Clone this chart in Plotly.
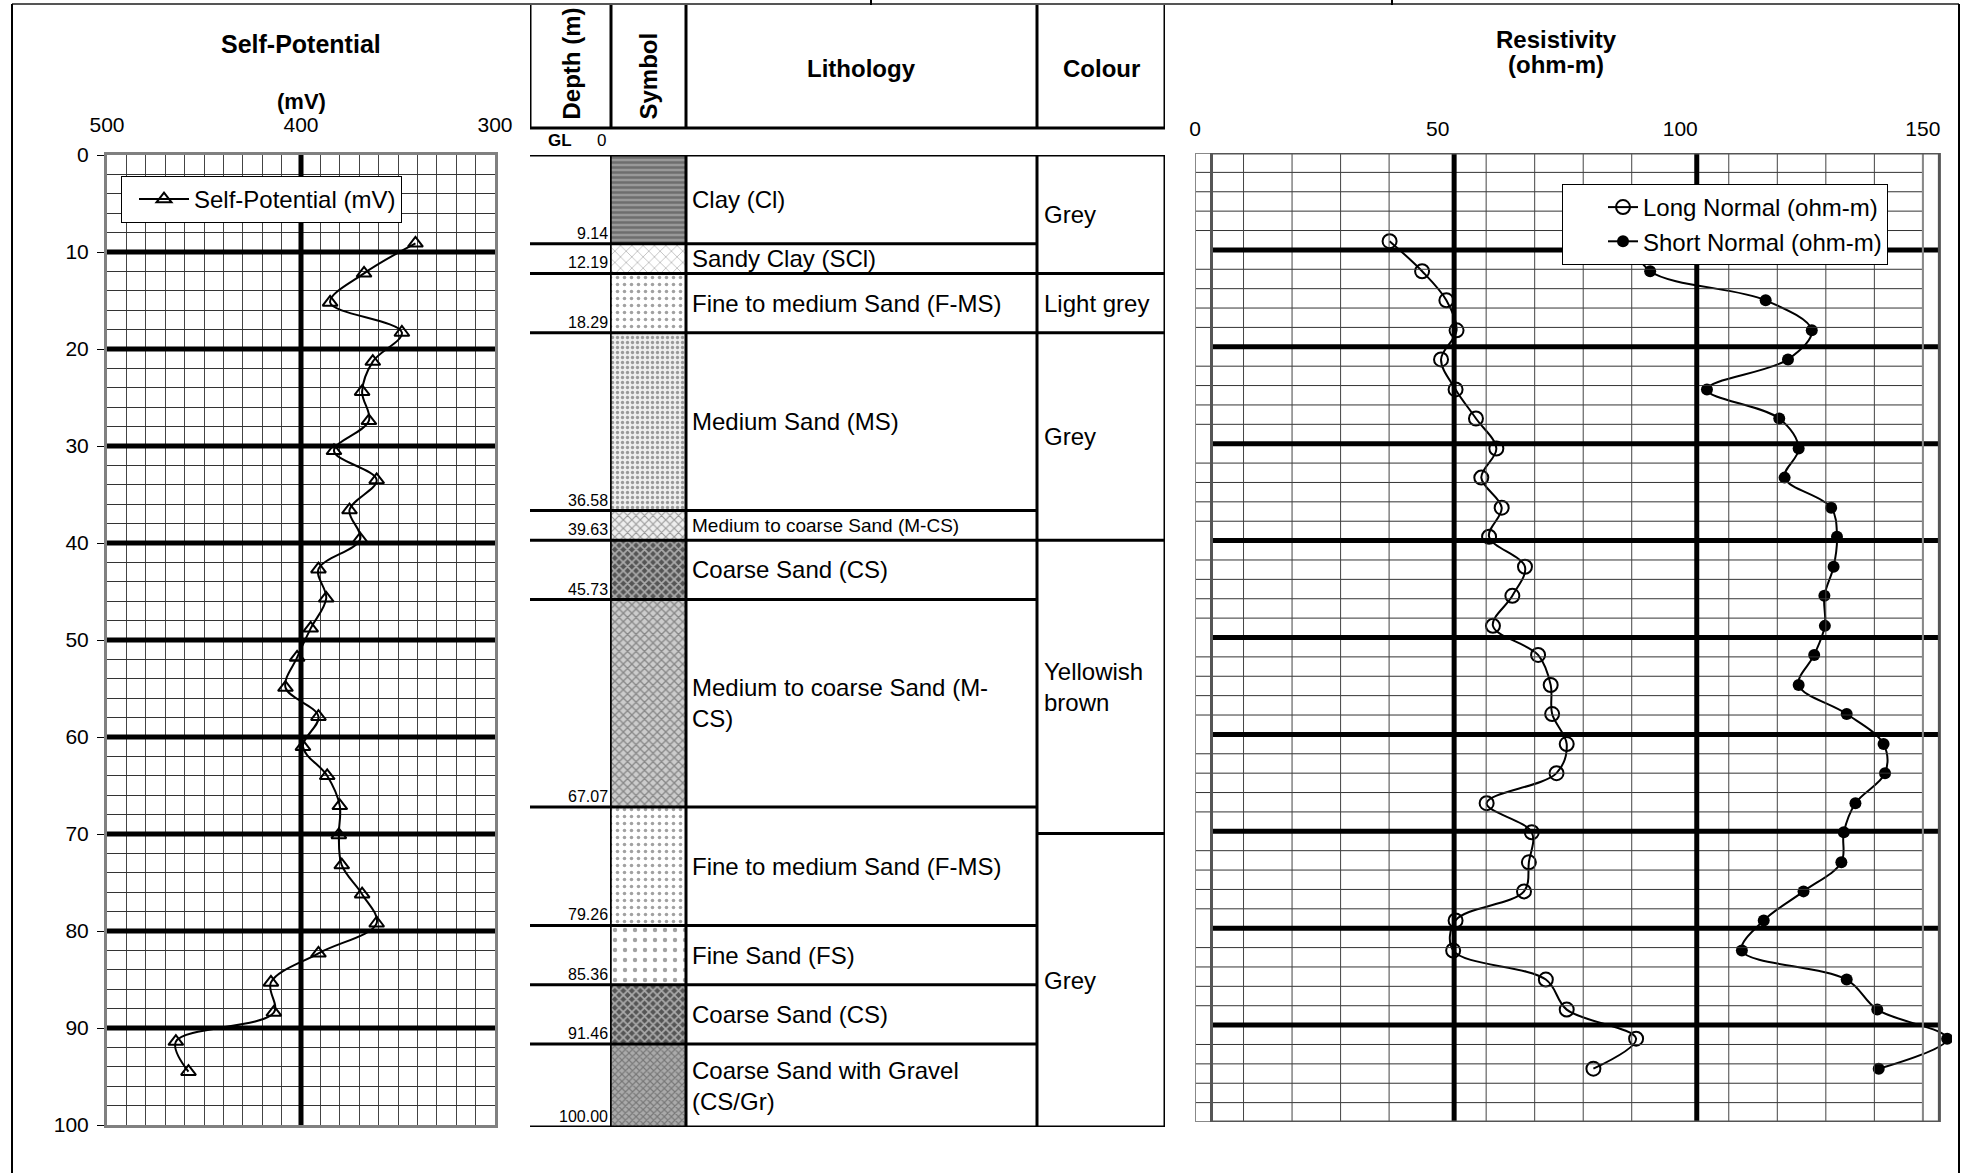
import plotly.graph_objects as go

W, H = 1970, 1173

# ---- self potential log ----
sp_depth = [9.1, 12.2, 15.2, 18.3, 21.3, 24.4, 27.4, 30.5, 33.5, 36.6, 39.6, 42.7, 45.7, 48.8, 51.8,
            54.9, 57.9, 61.0, 64.0, 67.1, 70.1, 73.2, 76.2, 79.2, 82.3, 85.3, 88.4, 91.4, 94.5]
sp_mv = [341, 367.5, 385, 348, 363, 368.5, 365, 383, 361, 375, 369.5, 391, 387, 395, 402,
         408, 391, 399, 386.5, 380, 380.5, 379, 368.5, 361, 391, 415.5, 414, 464.5, 458]

# ---- resistivity logs ----
res_depth = sp_depth
long_normal = [40.1, 46.8, 51.8, 53.9, 50.7, 53.7, 57.9, 62.1, 59.0, 63.2, 60.6, 68.0, 65.4, 61.4, 70.7,
               73.3, 73.6, 76.6, 74.5, 60.1, 69.4, 68.8, 67.8, 53.7, 53.2, 72.3, 76.6, 90.9, 82.1]
short_normal = [90, 93.8, 117.6, 127.1, 122.2, 105.5, 120.4, 124.4, 121.5, 131.1, 132.3, 131.6, 129.7, 129.8, 127.6,
                124.4, 134.3, 141.9, 142.2, 136.1, 133.7, 133.2, 125.4, 117.2, 112.7, 134.3, 140.6, 155.0, 140.9]

# ---- lithology ----
layer_top = [0, 9.14, 12.19, 18.29, 36.58, 39.63, 45.73, 67.07, 79.26, 85.36, 91.46]
layer_bottom = [9.14, 12.19, 18.29, 36.58, 39.63, 45.73, 67.07, 79.26, 85.36, 91.46, 100.00]
layer_name = ["Clay (Cl)", "Sandy Clay (SCl)", "Fine to medium Sand (F-MS)", "Medium Sand (MS)",
              "Medium to coarse Sand (M-CS)", "Coarse Sand (CS)", "Medium to coarse Sand (M-<br>CS)",
              "Fine to medium Sand (F-MS)", "Fine Sand (FS)", "Coarse Sand (CS)",
              "Coarse Sand with Gravel<br>(CS/Gr)"]
colour_top = [0, 12.19, 18.29, 39.63, 69.8]
colour_bottom = [12.19, 18.29, 39.63, 69.8, 100.0]
colour_name = ["Grey", "Light grey", "Grey", "Yellowish<br>brown", "Grey"]

# symbol fills for each layer
pat_shape = ["-", "x", ".", ".", "x", "x", "x", ".", ".", "x", "x"]
pat_fg = ["black", "black", "#333", "#444", "#444", "black", "#333", "#333", "#333", "black", "#333"]
pat_bg = ["#999", "white", "white", "#eee", "#eee", "#555", "#ccc", "white", "white", "#555", "#aaa"]
pat_size = [5, 8, 7, 5, 6, 6, 6, 7, 10, 6, 5]
pat_sol = [0.5, 0.15, 0.2, 0.35, 0.35, 0.5, 0.4, 0.2, 0.15, 0.5, 0.4]
label_size = [24, 24, 24, 24, 19, 24, 24, 24, 24, 24, 24]

FONT = "Liberation Sans, Arial, sans-serif"
COL_X = [0, 81, 156, 507, 635]   # depth | symbol | lithology | colour
GRID_SHIFT = 3.4                 # overlay grid of the resistivity panel is offset


def fx(px):
    return px / W


def fy(py):
    return 1 - py / H


fig = go.Figure()

fig.add_trace(go.Scatter(
    x=sp_mv, y=sp_depth, xaxis="x", yaxis="y",
    mode="lines+markers", name="Self-Potential (mV)", legend="legend",
    line=dict(color="black", width=2, shape="spline"),
    marker=dict(symbol="triangle-up-open", size=13, color="black", line=dict(width=2, color="black")),
))

fig.add_trace(go.Bar(
    x=[(COL_X[1] + COL_X[2]) / 2] * len(layer_top),
    y=[b - t for t, b in zip(layer_top, layer_bottom)],
    base=layer_top, width=COL_X[2] - COL_X[1],
    xaxis="x2", yaxis="y2", showlegend=False, hoverinfo="skip",
    marker=dict(color=pat_bg, line=dict(color="black", width=1),
                pattern=dict(shape=pat_shape, fgcolor=pat_fg, bgcolor=pat_bg,
                             size=pat_size, solidity=pat_sol, fillmode="overlay")),
))

fig.add_trace(go.Scatter(
    x=long_normal, y=res_depth, xaxis="x3", yaxis="y3",
    mode="lines+markers", name="Long Normal (ohm-m)", legend="legend2",
    line=dict(color="black", width=2, shape="spline"),
    marker=dict(symbol="circle-open", size=14, color="black", line=dict(width=2, color="black")),
))
fig.add_trace(go.Scatter(
    x=short_normal, y=res_depth, xaxis="x3", yaxis="y3",
    mode="lines+markers", name="Short Normal (ohm-m)", legend="legend2",
    line=dict(color="black", width=2, shape="spline"),
    marker=dict(symbol="circle", size=12, color="black"),
))

shapes = []


def line(xref, yref, x0, y0, x1, y1, color="black", width=1):
    shapes.append(dict(type="line", xref=xref, yref=yref, x0=x0, y0=y0, x1=x1, y1=y1,
                       line=dict(color=color, width=width), layer="above"))


# SP panel heavy lines
for d in range(10, 100, 10):
    line("x", "y", 500, d, 300, d, width=5)
line("x", "y", 400, 0, 400, 100, width=5)

# lithology table: header
for c in COL_X:
    line("x2", "paper", c, fy(5), c, fy(128), width=3)
line("x2", "paper", COL_X[0], fy(128), COL_X[-1], fy(128), width=3)
# lithology table: body
line("x2", "y2", COL_X[1], 0, COL_X[1], 100, width=1.5)
for c in COL_X[2:]:
    line("x2", "y2", c, 0, c, 100, width=3)
line("x2", "y2", COL_X[0], 0, COL_X[-1], 0, width=3)
for b in layer_bottom:
    line("x2", "y2", COL_X[0], b, COL_X[3], b, width=3)
for b in colour_bottom:
    line("x2", "y2", COL_X[3], b, COL_X[4], b, width=3)

# resistivity panel overlay grid
for d in range(2, 100, 2):
    if d % 10:
        line("x3", "y3", 0, d, 150, d, color="#333", width=1)
for v in [10, 20, 30, 40, 60, 70, 80, 90, 110, 120, 130, 140, 150]:
    line("x3", "y3", v, 0, v, 100, color="#444", width=1)
for d in range(10, 100, 10):
    line("x3", "y3", GRID_SHIFT, d, 150 + GRID_SHIFT, d, width=5)
for v in [50, 100]:
    line("x3", "y3", v + GRID_SHIFT, 0, v + GRID_SHIFT, 100, width=5)
shapes.append(dict(type="rect", xref="x3", yref="y3", x0=0, x1=150, y0=0, y1=100,
                   line=dict(color="#888", width=2), layer="above"))
shapes.append(dict(type="rect", xref="x3", yref="y3", x0=GRID_SHIFT, x1=150 + GRID_SHIFT, y0=0, y1=100,
                   line=dict(color="#555", width=3), layer="above"))

# outer border of the sheet
line("paper", "paper", fx(12), fy(4), fx(1959), fy(4), color="#555", width=2)
line("paper", "paper", fx(12), fy(4), fx(12), 0, width=2)
line("paper", "paper", fx(1959), fy(4), fx(1959), 0, width=2)
line("paper", "paper", fx(871), fy(0), fx(871), fy(5), width=2)
line("paper", "paper", fx(1392), fy(0), fx(1392), fy(5), width=2)

annotations = []


def note(text, x, y, xref="paper", yref="paper", size=24, bold=False, xanchor="center",
         yanchor="middle", angle=0):
    annotations.append(dict(text=f"<b>{text}</b>" if bold else text, x=x, y=y, xref=xref, yref=yref,
                            showarrow=False, xanchor=xanchor, yanchor=yanchor, textangle=angle,
                            font=dict(family=FONT, size=size, color="black"), align="left"))


note("Self-Potential", fx(301), fy(44), size=25, bold=True)
note("(mV)", fx(301), fy(102), size=22, bold=True)
note("Resistivity", fx(1556), fy(39), size=24, bold=True)
note("(ohm-m)", fx(1556), fy(65), size=24, bold=True)

note("Depth (m)", (COL_X[0] + COL_X[1]) / 2, fy(64), xref="x2", size=24, bold=True, angle=-90)
note("Symbol", (COL_X[1] + COL_X[2]) / 2, fy(76), xref="x2", size=24, bold=True, angle=-90)
note("Lithology", (COL_X[2] + COL_X[3]) / 2, fy(68), xref="x2", size=24, bold=True)
note("Colour", (COL_X[3] + COL_X[4]) / 2, fy(68), xref="x2", size=24, bold=True)
note("GL", fx(560), fy(141), size=17, bold=True)
note("0", fx(601), fy(141), size=17)

for t, b, name, s in zip(layer_top, layer_bottom, layer_name, label_size):
    note(name, COL_X[2] + 4, (t + b) / 2, xref="x2", yref="y2", size=s, xanchor="left")
    note(f"{b:.2f}", COL_X[1] - 1, b, xref="x2", yref="y2", size=16, xanchor="right", yanchor="bottom")
for t, b, name in zip(colour_top, colour_bottom, colour_name):
    note(name, COL_X[3] + 5, (t + b) / 2, xref="x2", yref="y2", size=24, xanchor="left")

tickfont = dict(family=FONT, size=21, color="black")
legendfont = dict(family=FONT, size=24, color="black")

fig.update_layout(
    width=W, height=H, autosize=False,
    margin=dict(l=0, r=0, t=0, b=0, pad=0),
    plot_bgcolor="white", paper_bgcolor="white",
    font=dict(family=FONT, color="black"),
    bargap=0,
    shapes=shapes, annotations=annotations,
    xaxis=dict(domain=[fx(107), fx(495)], range=[500, 300], side="top", anchor="y", automargin=False,
               tickvals=[500, 400, 300], showgrid=False, zeroline=False, ticks="",
               ticklabelstandoff=12, tickfont=tickfont,
               showline=True, linecolor="#808080", linewidth=3, mirror=True,
               minor=dict(tickmode="linear", tick0=300, dtick=10, showgrid=True,
                          gridcolor="#444", gridwidth=1)),
    yaxis=dict(domain=[fy(1125), fy(155)], range=[100, 0], anchor="x", automargin=False,
               tickmode="linear", tick0=0, dtick=10, showgrid=False, zeroline=False,
               ticks="outside", ticklen=7, tickcolor="black", tickwidth=1,
               ticklabelstandoff=4, tickfont=tickfont,
               showline=True, linecolor="#808080", linewidth=3, mirror=True,
               minor=dict(tickmode="linear", tick0=0, dtick=2, showgrid=True,
                          gridcolor="#333", gridwidth=1)),
    xaxis2=dict(domain=[fx(530), fx(1165)], range=[COL_X[0], COL_X[-1]], anchor="y2",
                automargin=False, visible=False, fixedrange=True),
    yaxis2=dict(domain=[fy(1127), fy(155)], range=[100, 0], anchor="x2", automargin=False, visible=False),
    xaxis3=dict(domain=[fx(1195), fx(1952)], range=[0, 156], side="top", anchor="y3", automargin=False,
                tickvals=[0, 50, 100, 150], showgrid=False, zeroline=False, ticks="",
                ticklabelstandoff=12, tickfont=tickfont, showline=False),
    yaxis3=dict(domain=[fy(1122), fy(153)], range=[100, 0], anchor="x3", automargin=False,
                showticklabels=False, showgrid=False, zeroline=False, ticks=""),
    legend=dict(x=fx(121), y=fy(176), xanchor="left", yanchor="top", indentation=12, itemwidth=50,
                bgcolor="white", bordercolor="black", borderwidth=1, font=legendfont),
    legend2=dict(x=fx(1562), y=fy(184), xanchor="left", yanchor="top", indentation=40,
                 bgcolor="white", bordercolor="black", borderwidth=1, font=legendfont),
)

# drop the page's default body margin so the figure sits at the window's corner
fig.write_html("out.html", config={"displayModeBar": False},
               post_script="document.body.style.margin='0';")
